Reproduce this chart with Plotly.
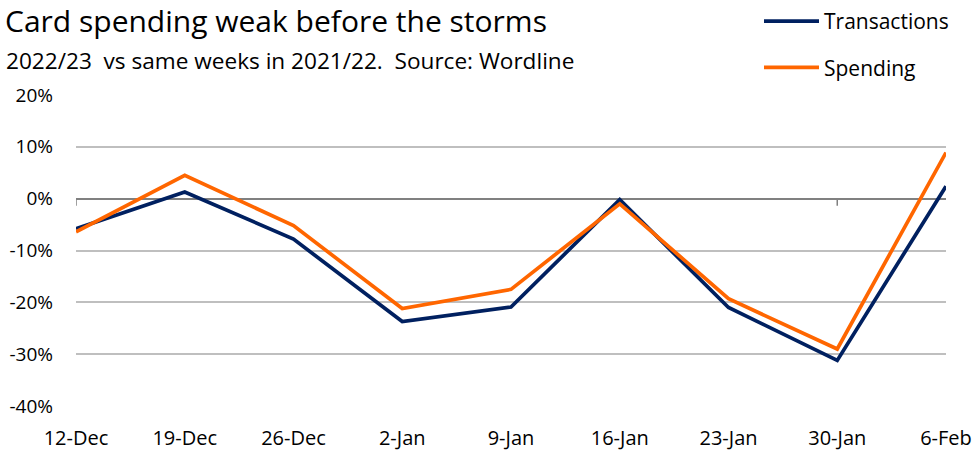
import plotly.graph_objects as go

weeks = ["12-Dec", "19-Dec", "26-Dec", "2-Jan", "9-Jan", "16-Jan", "23-Jan", "30-Jan", "6-Feb"]
transactions = [-5.8, 1.3, -7.8, -23.7, -20.9, -0.2, -21.0, -31.2, 2.4]
spending = [-6.4, 4.5, -5.2, -21.2, -17.5, -1.0, -19.3, -29.0, 8.9]
y_ticks = [20, 10, 0, -10, -20, -30, -40]
tick_mark_weeks = ["12-Dec", "30-Jan"]

NAVY = "#002060"
ORANGE = "#FF6600"
FONT = "Open Sans"

W, H = 980, 455
ML, MR, MT, MB = 76, 34, 95, 49
PW, PH = W - ML - MR, H - MT - MB

fig = go.Figure()
fig.add_trace(go.Scatter(x=weeks, y=transactions, mode="lines", name="Transactions",
                         line=dict(color=NAVY, width=3.7), legendgroup="a"))
fig.add_trace(go.Scatter(x=weeks, y=spending, mode="lines", name="Spending",
                         line=dict(color=ORANGE, width=3.7), legendgroup="b"))

for w in tick_mark_weeks:
    fig.add_shape(type="line", xref="x", yref="y", x0=w, x1=w,
                  ysizemode="pixel", yanchor=0, y0=0, y1=-7,
                  line=dict(color="#808080", width=1.5))

fig.update_layout(
    width=W, height=H,
    margin=dict(l=ML, r=MR, t=MT, b=MB, autoexpand=False),
    plot_bgcolor="white", paper_bgcolor="white",
    font=dict(family=FONT, color="#000000"),
    title=dict(text="Card spending weak before the storms", xref="container", yref="container",
               x=5/W, xanchor="left", y=1 - 21/H, yanchor="middle",
               font=dict(size=30, family=FONT, color="#000000")),
    annotations=[dict(text="2022/23  vs same weeks in 2021/22.  Source: Wordline",
                      xref="paper", yref="paper", x=(4 - ML)/PW, xanchor="left",
                      y=(H - MB - 60)/PH, yanchor="middle", showarrow=False,
                      font=dict(size=22.6, family=FONT, color="#000000"))],
    legend=dict(xref="container", yref="container", x=759/W, xanchor="left",
                y=1 - 1/H, yanchor="top", traceorder="grouped", tracegroupgap=16,
                itemwidth=55,
                font=dict(size=21, family=FONT, color="#000000"), bgcolor="rgba(0,0,0,0)"),
    showlegend=True,
)
fig.update_xaxes(type="category", range=[0, len(weeks) - 1], showgrid=False, showline=False,
                 zeroline=False, ticks="", tickfont=dict(size=20, family=FONT, color="#000000"),
                 ticklabelstandoff=18)
fig.update_yaxes(range=[-40, 20], tickvals=y_ticks, ticktext=[f"{v}%" for v in y_ticks],
                 showgrid=True, gridcolor="#BFBFBF", gridwidth=1.5,
                 zeroline=True, zerolinecolor="#808080", zerolinewidth=2,
                 showline=False, ticks="", tickfont=dict(size=19, family=FONT, color="#000000"),
                 ticklabelstandoff=22)

fig.write_html("out.html")
